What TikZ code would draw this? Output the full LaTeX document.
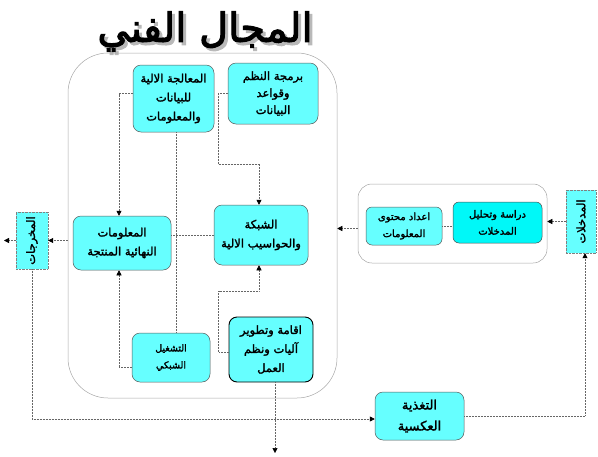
\documentclass[tikz,border=0pt]{standalone}
\usepackage{fontspec}
\newfontfamily\arabicfont[Script=Arabic, FakeBold=2]{DejaVu Sans}
\newfontfamily\titlefont[Script=Arabic, FakeBold=2.5]{DejaVu Sans}
\TeXXeTstate=1
\usetikzlibrary{arrows.meta}
\newcommand\ar[1]{\beginR #1\endR}
\definecolor{lcyan}{HTML}{66FFFF}
\definecolor{dcyan}{HTML}{00F8F8}
\begin{document}
\begin{tikzpicture}[x=1pt,y=-1pt,
  box/.style={draw=gray!70!black, line width=0.5pt, fill=lcyan, rounded corners=8pt, inner sep=1pt, align=center,
    font=\arabicfont\fontsize{11.5}{19}\selectfont},
  vbox/.style={draw=gray, densely dotted, fill=lcyan, inner sep=0pt, font=\arabicfont\fontsize{11.5}{10}\selectfont},
  frame/.style={draw=gray!70, line width=0.5pt, inner sep=0pt},
  conn/.style={draw=gray!80!black, densely dotted, line width=0.5pt},
  arr/.style={conn, -{Triangle[length=5pt,width=5pt,black,fill=black]}}
]
\useasboundingbox (0,0) rectangle (598,456);
% title
\node[font=\titlefont\fontsize{40}{44}\selectfont] (title) at (205,33)
  {\makebox[0pt][l]{\raisebox{-3pt}{\hspace{3pt}\color{gray!55}\ar{المجال الفني}}}\ar{المجال الفني}};
% big frame
\node[frame, rounded corners=40pt, minimum width=269pt, minimum height=345pt] (B) at (202.5,225.5) {};
% inner group frame
\node[frame, rounded corners=14pt, minimum width=189pt, minimum height=79pt] (G) at (452.5,223.5) {};
% boxes
\node[box, minimum width=81pt, minimum height=67pt] (n1) at (173.5,98.5) {\ar{المعالجة الالية}\\\ar{للبيانات}\\\ar{والمعلومات}};
\node[box, minimum width=90pt, minimum height=61pt, font=\arabicfont\fontsize{11.5}{17}\selectfont] (n2) at (273,93.5) {\ar{برمجة النظم}\\\ar{وقواعد}\\\ar{البيانات}};
\node[box, minimum width=94pt, minimum height=60pt] (n3) at (261,235) {\ar{الشبكة}\\\ar{والحواسيب الالية}};
\node[box, minimum width=98pt, minimum height=54pt] (n4) at (122,243) {\ar{المعلومات}\\\ar{النهائية المنتجة}};
\node[box, minimum width=78pt, minimum height=49pt, font=\arabicfont\fontsize{9.5}{17}\selectfont] (n5) at (171,357.5) {\ar{التشغيل}\\\ar{الشبكي}};
\node[box, draw=black, line width=0.9pt, minimum width=84pt, minimum height=65pt] (n6) at (271,349.5) {\ar{اقامة وتطوير}\\\ar{آليات ونظم}\\\ar{العمل}};
\node[vbox, minimum width=32pt, minimum height=57pt] (n7) at (32,240.5) {\rotatebox{90}{\ar{المخرجات}}};
\node[vbox, minimum width=30pt, minimum height=63pt] (n8) at (581,221.5) {\rotatebox{90}{\ar{المدخلات}}};
\node[box, rounded corners=6pt, minimum width=76pt, minimum height=38pt, font=\arabicfont\fontsize{10}{17}\selectfont] (n10) at (404,226) {\ar{اعداد محتوى}\\\ar{المعلومات}};
\node[box, fill=dcyan, draw=black!70, rounded corners=6pt, minimum width=89pt, minimum height=41pt, font=\arabicfont\fontsize{10}{17}\selectfont] (n11) at (497.5,222.5) {\ar{دراسة وتحليل}\\\ar{المدخلات}};
\node[box, minimum width=89pt, minimum height=48pt, font=\arabicfont\fontsize{13}{21}\selectfont] (n12) at (419.5,416) {\ar{التغذية}\\\ar{العكسية}};
\coordinate (outL) at (4,240.5);
\coordinate (outD) at (275,453);
% connectors outside
\draw[arr] (n8.west) -- (n8.west -| G.east);
\draw[arr] ([yshift=-5pt]G.west) -- ([yshift=-5pt]G.west -| B.east);
\draw[conn] (n10.east) -- (n10.east -| n11.west);
\draw[arr] (n7.east -| B.west) -- (n7.east);
\draw[arr] (n7.west) -- (outL);
\draw[arr] (n7.south) |- ([yshift=-3pt]n12.west);
\draw[arr] (n12.east) -| ([xshift=4pt]n8.south);
\draw[arr] ([xshift=4pt]n6.south) -- (outD);
% connectors inside
\draw[arr] ([yshift=5pt]n1.west) -| ([xshift=-3pt]n4.north);
\draw[conn] ([xshift=2.5pt]n1.south) -- ([xshift=2.5pt]n1.south |- n5.north);
\draw[conn] (n3.west) -- (n3.west -| n4.east);
\draw[arr] (n2.west) -- ++(-10,0) |- ([xshift=-2pt,yshift=41pt]n3.north) -- ([xshift=-2pt]n3.north);
\draw[arr] ([yshift=-2.5pt]n6.west) -- ++(-10,0) |- ([xshift=-2pt,yshift=-26pt]n3.south) -- ([xshift=-2pt]n3.south);
\draw[arr] ([yshift=-10pt]n5.west) -| ([xshift=-3pt]n4.south);
\end{tikzpicture}
\end{document}
